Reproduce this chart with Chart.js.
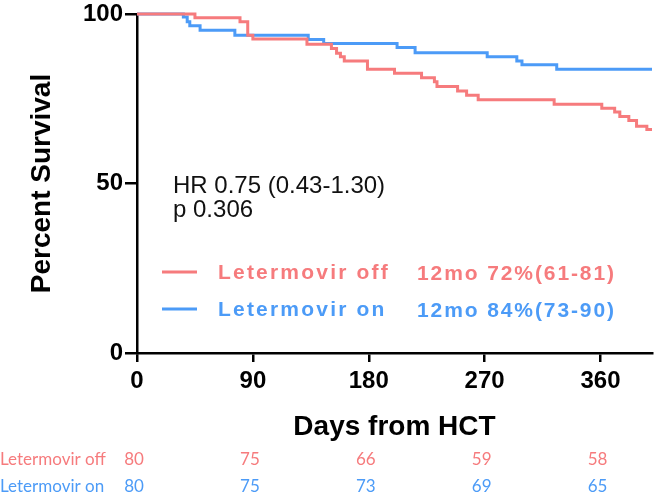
<!DOCTYPE html>
<html>
<head>
<meta charset="utf-8">
<script src="https://cdn.jsdelivr.net/npm/chart.js@4/dist/chart.umd.min.js"></script>
<style>
  html, body { margin: 0; padding: 0; background: #fff; }
  #wrap { width: 657px; height: 496px; }
</style>
</head>
<body>
<div id="wrap"><canvas id="kmChart" width="657" height="496"></canvas></div>
<script>
// Kaplan-Meier steps (day, percent survival)
const offDays = [0, 45, 80, 86, 90, 132, 151, 155, 158, 161, 179, 200, 221, 231, 233, 249, 256, 265, 324, 361, 371, 375, 382, 388, 396, 400];
const offSurv = [100, 98.9, 97.7, 93.7, 92.6, 91.1, 89.8, 88.4, 87.4, 86.1, 83.7, 82.5, 81.2, 80.0, 78.6, 77.3, 76.0, 74.7, 73.4, 72.2, 71.1, 69.8, 68.6, 66.9, 65.9, 65.9];
const onDays = [0, 36, 39, 41, 49, 76, 133, 145, 202, 216, 272, 295, 299, 326, 400];
const onSurv = [100, 99.1, 97.7, 96.5, 95.2, 93.7, 92.5, 91.3, 90.1, 88.6, 87.4, 86.1, 85.0, 83.7, 83.7];

const groupNames = ['Letermovir off', 'Letermovir on'];
const twelveMonth = ['12mo 72%(61-81)', '12mo 84%(73-90)'];
const statLines = ['HR 0.75 (0.43-1.30)', 'p 0.306'];

const xTicks = [0, 90, 180, 270, 360];
const yTicks = [0, 50, 100];
const riskOff = [80, 75, 66, 59, 58];
const riskOn = [80, 75, 73, 69, 65];

const RED = '#F67B7D';
const BLUE = '#4C9BF7';
const FONT = "'Liberation Sans', Arial, sans-serif";

Chart.defaults.font.family = FONT;
Chart.defaults.color = '#000';

function spacedText(ctx, text, x, y, spacing) {
  let cx = x;
  for (const ch of text) {
    ctx.fillText(ch, cx, y);
    cx += ctx.measureText(ch).width + spacing;
  }
}

const overlay = {
  id: 'overlay',
  afterDraw(chart) {
    const ctx = chart.ctx;
    const xs = chart.scales.x;
    const colors = chart.data.datasets.map(d => d.borderColor);
    ctx.save();

    // HR / p value
    ctx.fillStyle = '#111';
    ctx.font = '24px ' + FONT;
    ctx.textAlign = 'left';
    ctx.textBaseline = 'alphabetic';
    statLines.forEach((t, i) => ctx.fillText(t, 173, 193 + i * 24));

    // legend
    const legY = [272, 309];
    groupNames.forEach((name, i) => {
      ctx.strokeStyle = colors[i];
      ctx.lineWidth = 3;
      ctx.beginPath();
      ctx.moveTo(162, legY[i]);
      ctx.lineTo(197, legY[i]);
      ctx.stroke();
      ctx.fillStyle = colors[i];
      ctx.font = 'bold 21px ' + FONT;
      ctx.textBaseline = 'middle';
      spacedText(ctx, name, 218, legY[i] + 1, 2.2);
      spacedText(ctx, twelveMonth[i], 417, legY[i] + 2, 1.9);
    });

    // numbers at risk
    const rows = [riskOff, riskOn];
    const rowY = [460, 487];
    ctx.font = "17px Lato, 'Open Sans', sans-serif";
    rows.forEach((vals, i) => {
      ctx.fillStyle = colors[i];
      ctx.textAlign = 'left';
      ctx.fillText(groupNames[i], 0, rowY[i]);
      ctx.textAlign = 'center';
      vals.forEach((v, j) => {
        ctx.fillText(String(v), xs.getPixelForValue(xTicks[j]) - 3, rowY[i]);
      });
    });
    ctx.restore();
  }
};

new Chart(document.getElementById('kmChart'), {
  type: 'line',
  data: {
    datasets: [{
      label: groupNames[0],
      data: offDays.map((d, i) => ({ x: d, y: offSurv[i] })),
      borderColor: RED,
      backgroundColor: RED,
      borderWidth: 3,
      stepped: true,
      pointRadius: 0,
      fill: false,
      clip: false
    }, {
      label: groupNames[1],
      data: onDays.map((d, i) => ({ x: d, y: onSurv[i] })),
      borderColor: BLUE,
      backgroundColor: BLUE,
      borderWidth: 3,
      stepped: true,
      pointRadius: 0,
      fill: false,
      clip: false
    }]
  },
  options: {
    responsive: false,
    animation: false,
    layout: { padding: { top: 12, right: 5, left: 0, bottom: 0 } },
    plugins: {
      legend: { display: false },
      tooltip: { enabled: false }
    },
    scales: {
      x: {
        type: 'linear',
        min: 0,
        max: 400,
        afterBuildTicks: s => { s.ticks = xTicks.map(v => ({ value: v })); },
        afterFit: s => { s.height = 143; },
        ticks: {
          autoSkip: false,
          maxRotation: 0,
          padding: 7,
          font: { size: 24, weight: 'bold', lineHeight: 1 },
          color: '#000'
        },
        grid: { drawOnChartArea: false, drawTicks: true, tickLength: 9, color: '#000', lineWidth: 2.5 },
        border: { display: true, color: '#000', width: 2.5 },
        title: {
          display: true,
          text: 'Days from HCT',
          font: { size: 28, weight: 'bold' },
          color: '#000',
          padding: { top: 0, bottom: 52 }
        }
      },
      y: {
        min: 0,
        max: 100,
        afterBuildTicks: s => { s.ticks = yTicks.map(v => ({ value: v })); },
        afterFit: s => { s.width = 137; },
        ticks: {
          autoSkip: false,
          padding: 2,
          font: { size: 24, weight: 'bold', lineHeight: 1 },
          color: '#000'
        },
        grid: { drawOnChartArea: false, drawTicks: true, tickLength: 12, color: '#000', lineWidth: 2.5 },
        border: { display: true, color: '#000', width: 2.5 },
        title: {
          display: true,
          text: 'Percent Survival',
          font: { size: 28, weight: 'bold' },
          color: '#000',
          padding: { top: 25, bottom: 0 }
        }
      }
    }
  },
  plugins: [overlay]
});
</script>
</body>
</html>
